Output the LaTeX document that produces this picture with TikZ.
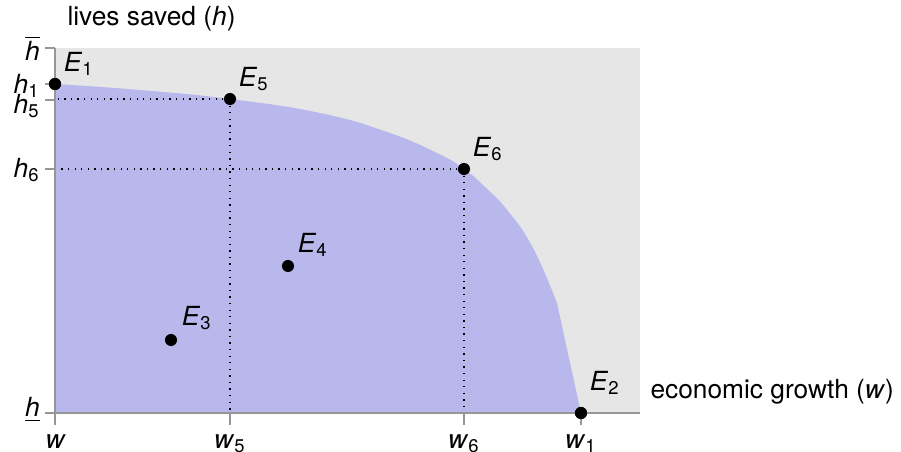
\documentclass[tikz,border=0pt]{standalone}
\usepackage{amsmath}
\usepackage{fontspec}
\setmainfont{TeX Gyre Heros}
\usetikzlibrary{calc}

\definecolor{frontblue}{RGB}{184,184,236}
\definecolor{backgray}{RGB}{230,230,230}
\definecolor{axisgray}{RGB}{150,150,150}

\newcommand{\sub}[2]{\textit{#1}$_{\text{#2}}$}

\begin{document}
\begin{tikzpicture}[
    x=0.38pt, y=-0.38pt,
    dot/.style={circle, fill=black, inner sep=0pt, minimum size=4.6pt},
    axisline/.style={draw=axisgray, line width=0.5pt},
    guide/.style={dotted, line width=0.5pt},
    elabel/.style={inner sep=1pt, font=\normalsize},
    ticklbl/.style={inner sep=1pt, font=\normalsize},
    axislbl/.style={inner sep=0pt, font=\normalsize}
  ]
    \useasboundingbox (0,0) rectangle (901,452);

    %--- Feasible region ---
    \coordinate (O)  at (55,413);
    \coordinate (TL) at (55,48);
    \coordinate (BR) at (640,413);
    \fill[backgray] (TL) rectangle (BR);
    \fill[frontblue] (O) -- plot[smooth, tension=0.8] coordinates {
        (55,84) (140,90) (230,99) (320,113) (387,132) (437,153)
        (464,169) (485,187) (508,211) (533,248) (557,303)}
      -- (581,413) -- cycle;

    %--- Outcomes ---
    \node[dot] (E1) at (55,84)   {};
    \node[dot] (E2) at (581,413) {};
    \node[dot] (E3) at (171,340) {};
    \node[dot] (E4) at (288,266) {};
    \node[dot] (E5) at (230,99)  {};
    \node[dot] (E6) at (464,169) {};

    %--- Guides ---
    \draw[guide] (E5.center) -- (E5 |- O);
    \draw[guide] (E5.center) -- (E5 -| O);
    \draw[guide] (E6.center) -- (E6 |- O);
    \draw[guide] (E6.center) -- (E6 -| O);

    %--- Axes ---
    \draw[axisline] (TL) -- (O) -- (BR);
    \foreach \y in {48,84,100,169,413}
      \draw[axisline] (55,\y) -- ++(-10,0);
    \foreach \x in {55,230,464,581}
      \draw[axisline] (\x,413) -- ++(0,12);

    \node[dot] at (E1) {};
    \node[dot] at (E2) {};

    %--- Tick labels ---
    \node[ticklbl, anchor=east] (hbar) at (43,48)  {$\overline{\textit{h}}$};
    \node[ticklbl, anchor=east] (h1)   at (43,86)  {\sub{h}{1}};
    \node[ticklbl, anchor=east] (h5)   at (43,106) {\sub{h}{5}};
    \node[ticklbl, anchor=east] (h6)   at (43,170) {\sub{h}{6}};
    \node[ticklbl, anchor=east] (hlow) at (43,410) {$\underline{\textit{h}}$};
    \node[ticklbl, anchor=north] (wlow) at (55,432)  {$\underline{\textit{w}}$};
    \node[ticklbl, anchor=north] (w5)   at (230,432) {\sub{w}{5}};
    \node[ticklbl, anchor=north] (w6)   at (464,432) {\sub{w}{6}};
    \node[ticklbl, anchor=north] (w1)   at (581,432) {\sub{w}{1}};

    %--- Point labels ---
    \node[elabel] (l1) at ($(E1)+(24,-20)$) {\sub{E}{1}};
    \node[elabel] (l2) at ($(E2)+(24,-30)$) {\sub{E}{2}};
    \node[elabel] (l3) at ($(E3)+(26,-22)$) {\sub{E}{3}};
    \node[elabel] (l4) at ($(E4)+(25,-21)$) {\sub{E}{4}};
    \node[elabel] (l5) at ($(E5)+(24,-20)$) {\sub{E}{5}};
    \node[elabel] (l6) at ($(E6)+(24,-20)$) {\sub{E}{6}};

    %--- Axis titles ---
    \node[axislbl, anchor=west] (ylbl) at (67,19)  {lives saved (\textit{h})};
    \node[axislbl, anchor=west] (xlbl) at (650,392) {economic growth (\textit{w})};
  \end{tikzpicture}
\end{document}
